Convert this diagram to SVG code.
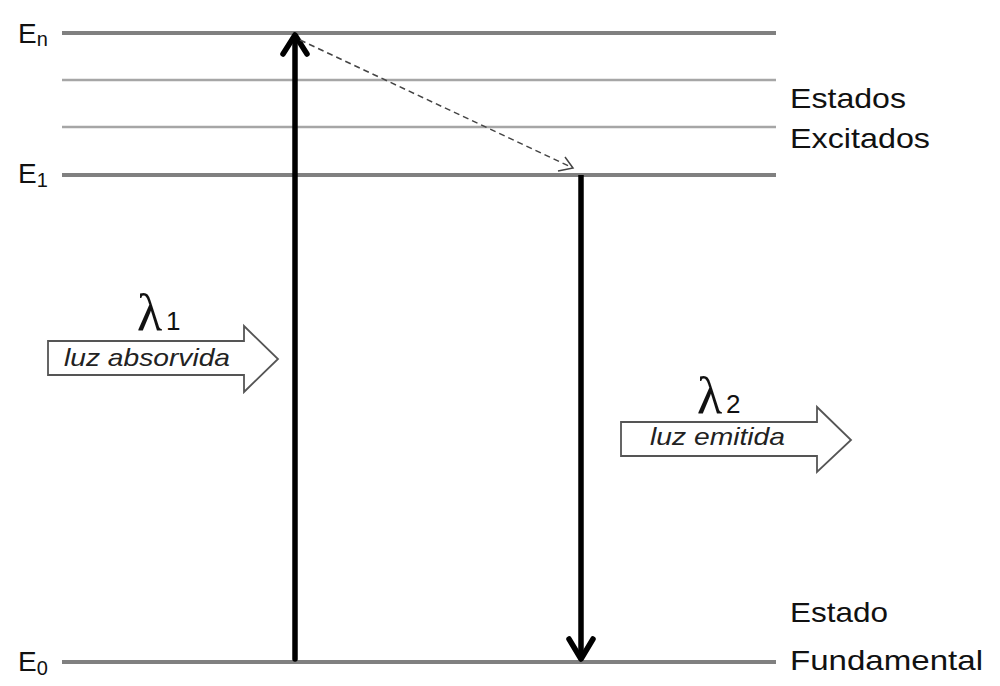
<svg xmlns="http://www.w3.org/2000/svg" width="1000" height="686" viewBox="0 0 1000 686">
<defs>
<style>
.lvl{stroke:#808080;stroke-width:4}
.sub{stroke:#a6a6a6;stroke-width:2.5}
.lab{font-family:"Liberation Sans",Arial,sans-serif;fill:#111}
.it{font-family:"Liberation Sans",Arial,sans-serif;font-style:italic;fill:#222;font-size:24px}
.lam{font-family:"Liberation Serif","Times New Roman",serif;fill:#111;font-size:52px}
.blk{fill:#fff;stroke:#555;stroke-width:1.8;stroke-linejoin:miter}
.big{stroke:#000;stroke-width:5.5;fill:none;stroke-linecap:round;stroke-linejoin:round}
</style>
</defs>
<rect width="1000" height="686" fill="#fff"/>
<g id="levels">
<line class="lvl" x1="62" y1="33" x2="776" y2="33"/>
<line class="sub" x1="62" y1="80" x2="776" y2="80"/>
<line class="sub" x1="62" y1="127" x2="776" y2="127"/>
<line class="lvl" x1="62" y1="175" x2="776" y2="175"/>
<line class="lvl" x1="62" y1="662" x2="776" y2="662"/>
</g>
<g id="level-labels" class="lab">
<text x="18" y="43" font-size="28">E<tspan font-size="20" dy="3">n</tspan></text>
<text x="18" y="183" font-size="28">E<tspan font-size="20" dy="4">1</tspan></text>
<text x="18" y="671" font-size="28">E<tspan font-size="20" dy="4">0</tspan></text>
<text x="790" y="108" font-size="28" textLength="116" lengthAdjust="spacingAndGlyphs">Estados</text>
<text x="790" y="148" font-size="28" textLength="140" lengthAdjust="spacingAndGlyphs">Excitados</text>
<text x="790" y="622" font-size="28" textLength="98" lengthAdjust="spacingAndGlyphs">Estado</text>
<text x="790" y="670" font-size="28" textLength="193" lengthAdjust="spacingAndGlyphs">Fundamental</text>
</g>
<g id="connectors">
<line class="big" x1="295" y1="659" x2="295" y2="36"/>
<polyline class="big" points="283,54 295,35 307,54"/>
<line stroke="#000" stroke-width="5.5" x1="581" y1="175" x2="581" y2="657"/>
<polyline class="big" points="569,639 581,659 593,639"/>
<line x1="300" y1="40" x2="571" y2="167" stroke="#444" stroke-width="1.5" stroke-dasharray="6,4"/>
<polyline points="558,171 573,168 565,157" fill="none" stroke="#444" stroke-width="1.5"/>
</g>
<g id="absorbed">
<polygon class="blk" points="48,341 244,341 244,326 278,359 244,392 244,375 48,375"/>
<text class="lam" x="137" y="330">λ</text>
<text class="lab" x="166" y="330" font-size="26">1</text>
<text class="it" x="64" y="366" textLength="166" lengthAdjust="spacingAndGlyphs">luz absorvida</text>
</g>
<g id="emitted">
<polygon class="blk" points="621,422 817,422 817,407 851,440 817,472 817,456 621,456"/>
<text class="lam" x="697" y="413">λ</text>
<text class="lab" x="726" y="413" font-size="26">2</text>
<text class="it" x="650" y="445" textLength="135" lengthAdjust="spacingAndGlyphs">luz emitida</text>
</g>
</svg>
